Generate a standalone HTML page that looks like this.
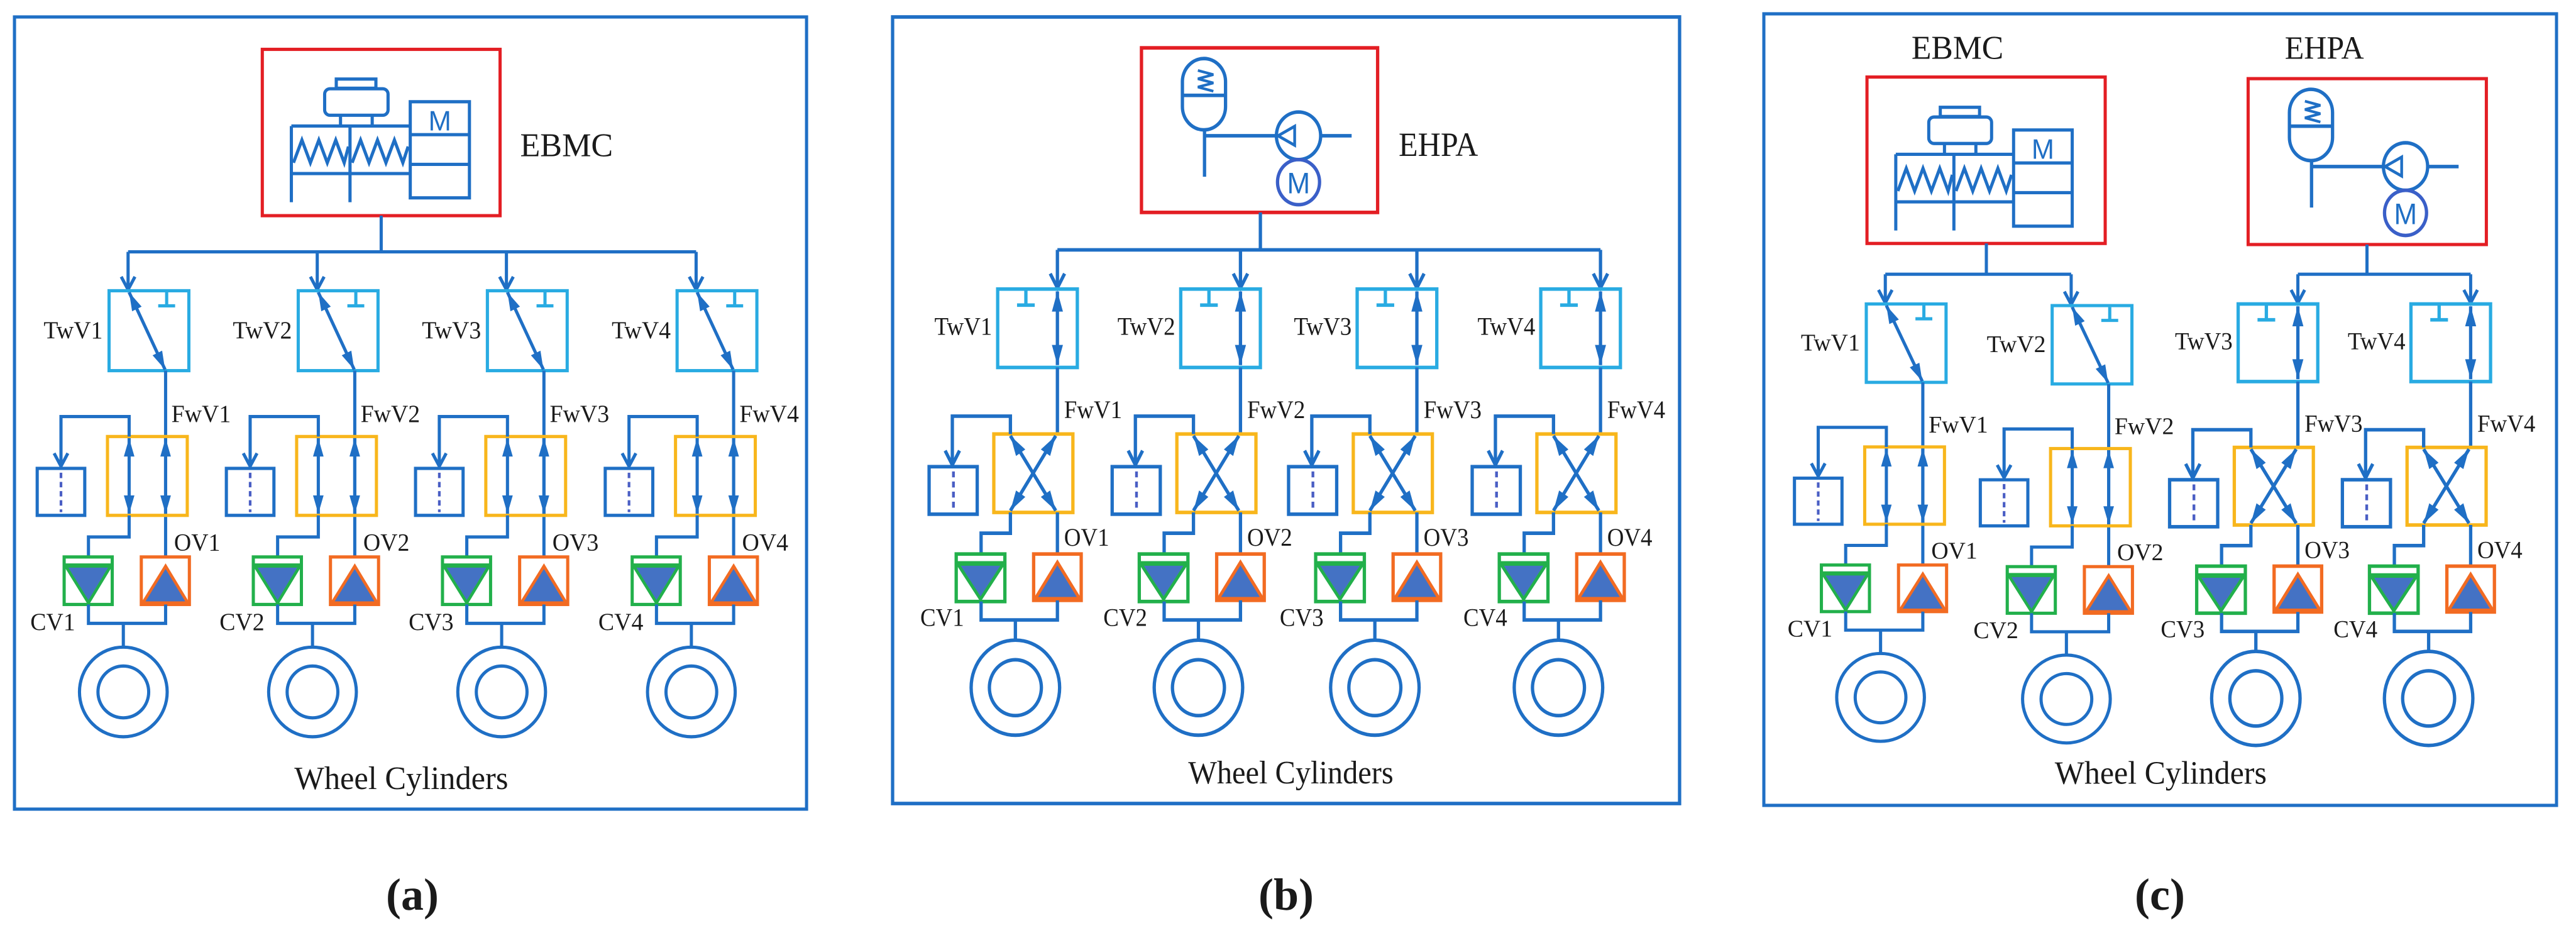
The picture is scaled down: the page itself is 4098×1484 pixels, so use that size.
<!DOCTYPE html>
<html><head><meta charset="utf-8"><style>
html,body{margin:0;padding:0;background:#fff;width:4098px;height:1484px;overflow:hidden}
svg text{font-family:"Liberation Serif",serif;fill:#1a1a1a}
</style></head><body>
<svg id="s" width="4098" height="1484" viewBox="0 0 4098 1484" xmlns="http://www.w3.org/2000/svg">
<g id="root"></g>
<text x="656" y="1447" font-size="72" font-weight="bold" text-anchor="middle">(a)</text>
<text x="2046" y="1447" font-size="72" font-weight="bold" text-anchor="middle">(b)</text>
<text x="3436" y="1447" font-size="72" font-weight="bold" text-anchor="middle">(c)</text>
</svg>
<script>
const C='#1f6fc5',TW='#29abe2',Y='#f8b61c',G='#22b04b',O='#f26b22',RED='#e31e24',TF='#4472c4';
const SW=6;
function L(p,col=C,w=SW,ex=''){return `<polyline points="${p}" fill="none" stroke="${col}" stroke-width="${w}" ${ex}/>`}
function R(x1,y1,x2,y2,col,w=SW,ex=''){return `<rect x="${x1}" y="${y1}" width="${x2-x1}" height="${y2-y1}" fill="none" stroke="${col}" stroke-width="${w}" ${ex}/>`}
function H(x,y,ux,uy,len=34,wd=10){const bx=x-ux*len,by=y-uy*len;return `<polygon points="${x},${y} ${bx-uy*wd},${by+ux*wd} ${bx+uy*wd},${by-ux*wd}" fill="${C}"/>`}
function V(x,y,ux,uy,len=24,wd=13){const bx=x-ux*len,by=y-uy*len;return L(`${bx-uy*wd},${by+ux*wd} ${x},${y} ${bx+uy*wd},${by-ux*wd}`)}
function DA(x1,y1,x2,y2){const d=Math.hypot(x2-x1,y2-y1),ux=(x2-x1)/d,uy=(y2-y1)/d;return L(`${x1},${y1} ${x2},${y2}`)+H(x1,y1,-ux,-uy)+H(x2,y2,ux,uy)}
function T(x,y,t,sz,a='start',ex=''){return `<text x="${x}" y="${y}" font-size="${sz}" text-anchor="${a}" ${ex}>${t}</text>`}
function CI(x,y,r,col=C,w=SW){return `<circle cx="${x}" cy="${y}" r="${r}" fill="none" stroke="${col}" stroke-width="${w}"/>`}
function TRI(p,col){return `<polygon points="${p}" fill="${TF}" stroke="${col}" stroke-width="5.5"/>`}

function colA(n){
 let s='';
 s+=R(-36,0,115,148,TW)+L('57,28 89,28',TW)+L('73,3 73,28',TW)+DA(2,3,70,146);
 s+=L('71,148 71,493');
 s+=R(-39,270,112,416,Y)+DA(2,273,2,413)+DA(71,273,71,413);
 s+=L('2,270 2,233 -127,233 -127,323')+V(-127,325,0,1);
 s+=R(-172,329,-82,416,C)+L('-127,337 -127,410','#4a5ec4',5,'stroke-dasharray="10,7"');
 s+=L('2,416 2,456 -75,456 -75,493');
 s+=R(-121,493,-30,581,G)+L('-121,508 -30,508',G)+TRI('-118,510 -33,510 -75,578',G);
 s+=R(25,493,116,581,O)+TRI('28,578 113,578 71,510',O);
 s+=L('-75,581 -75,616 71,616 71,581')+L('-9,616 -9,660');
 s+=CI(-9,743,83)+CI(-9,743,48);
 s+=T(-48,88,'TwV'+n,45,'end')+T(82,243,'FwV'+n,45)+T(87,481,'OV'+n,45)+T(-185,628,'CV'+n,45);
 return s;
}
function colB(n){
 let s='';
 s+=R(-108,0,36,132,TW)+L('-73,27 -41,27',TW)+L('-57,2 -57,27',TW)+DA(0,4,0,128);
 s+=L('0,132 0,244');
 s+=R(-115,244,28,376,Y)+DA(-85,247,-3,373)+DA(-3,247,-85,373);
 s+=L('-85,244 -85,214 -190,214 -190,294')+V(-190,296,0,1);
 s+=R(-232,299,-145,379,C)+L('-188,307 -188,373','#4a5ec4',5,'stroke-dasharray="10,7"');
 s+=L('-85,376 -85,411 -138,411 -138,446')+L('0,376 0,446');
 s+=R(-183,446,-95,526,G)+L('-183,461 -95,461',G)+TRI('-180,463 -98,463 -139,522',G);
 s+=R(-43,446,43,524,O)+TRI('-40,521 40,521 0,460',O);
 s+=L('-138,526 -138,557 0,557 0,524')+L('-76,557 -76,592');
 s+=CI(-76,671,80)+CI(-76,671,47);
 s+=T(-118,77,'TwV'+n,42,'end')+T(12,217,'FwV'+n,42)+T(12,432,'OV'+n,42)+T(-248,567,'CV'+n,42);
 return s;
}
function ebmc(){
 let s='';
 s+=R(637,145,712,162,C)+`<rect x="615" y="163" width="120" height="49" rx="10" fill="none" stroke="${C}" stroke-width="${SW}"/>`;
 s+=L('645,212 645,232')+L('705,212 705,232');
 s+=L('552,232 552,373')+L('663,232 663,373')+L('552,232 777,232')+L('552,320 777,320');
 s+=L('556,300 572,258 588,300 604,258 620,300 636,258 652,300 660,270');
 s+=L('667,300 683,258 699,300 715,258 731,300 747,258 763,300 773,270');
 s+=R(777,187,889,365,C)+L('777,248 889,248')+L('777,303 889,303');
 s+=`<text x="833" y="240" font-size="52" text-anchor="middle" style="font-family:'Liberation Sans',sans-serif;fill:${C}">M</text>`;
 return s;
}
function ehpa(){
 let s='';
 s+=`<rect x="569" y="98" width="78" height="120" rx="39" fill="none" stroke="${C}" stroke-width="${SW}"/>`;
 s+=L('569,160 647,160')+L('597,118 625,125 597,132 625,139 597,146 625,153',C,4.5);
 s+=L('609,218 609,297')+L('609,228 739,228')+L('819,228 875,228');
 s+=CI(779,228,40)+`<polygon points="742,228 772,212 772,244" fill="none" stroke="${C}" stroke-width="5"/>`;
 s+=CI(779,306,38,'#3a5fc8');
 s+=`<text x="779" y="325" font-size="50" text-anchor="middle" style="font-family:'Liberation Sans',sans-serif;fill:${C}">M</text>`;
 return s;
}
let out='';
{let s=R(28,30,1527,1497,C)+R(497,90,947,398,RED)+ebmc()+T(985,288,'EBMC',62);
 s+=L('722,398 722,465')+L('243,465 1318,465');
 [243,601,959,1318].forEach((x,i)=>{s+=L(`${x},465 ${x},535`)+V(x,535,0,1)+`<g transform="translate(${x},537)">${colA(i+1)}</g>`});
 s+=T(760,1460,'Wheel Cylinders',60,'middle');
 out+=`<g transform="matrix(0.8406,0,0,0.8589,-0.5,1.2)">${s}</g>`;}
{let s=R(45,28,1468,1352,C)+R(495,80,922,357,RED)+ehpa()+T(960,262,'EHPA',57);
 s+=L('710,357 710,420')+L('343,420 1325,420');
 [343,674,993,1325].forEach((x,i)=>{s+=L(`${x},420 ${x},484`)+V(x,484,0,1)+`<g transform="translate(${x},486)">${colB(i+1)}</g>`});
 s+=T(765,1318,'Wheel Cylinders',55,'middle');
 out+=`<g transform="matrix(0.8798,0,0,0.9449,1380.4,0.54)">${s}</g>`;}
{let s=R(18,25,1532,1490,C)+R(215,142,670,450,RED)+R(943,145,1398,452,RED);
 s+=`<g transform="translate(-282,53)">${ebmc()}</g>`;
 s+=`<g transform="matrix(1.056,0,0,1.0995,421,57)">${ehpa()}</g>`;
 s+=T(300,108,'EBMC',62)+T(1013,108,'EHPA',60);
 s+=L('443,450 443,507')+L('250,507 605,507')+L('1170,452 1170,507')+L('1038,507 1368,507');
 [[250,562],[605,565]].forEach(([x,y],i)=>{s+=L(`${x},507 ${x},${y-2}`)+V(x,y-2,0,1)+`<g transform="translate(${x},${y}) scale(1.009,0.98)">${colA(i+1)}</g>`});
 [1038,1368].forEach((x,i)=>{s+=L(`${x},507 ${x},560`)+V(x,560,0,1)+`<g transform="translate(${x},562) scale(1.056,1.088)">${colB(i+3)}</g>`});
 s+=T(776,1450,'Wheel Cylinders',60,'middle');
 out+=`<g transform="matrix(0.8329,0,0,0.8594,2791,0.5)">${s}</g>`;}
document.getElementById('root').innerHTML=out;
</script>
</body></html>
